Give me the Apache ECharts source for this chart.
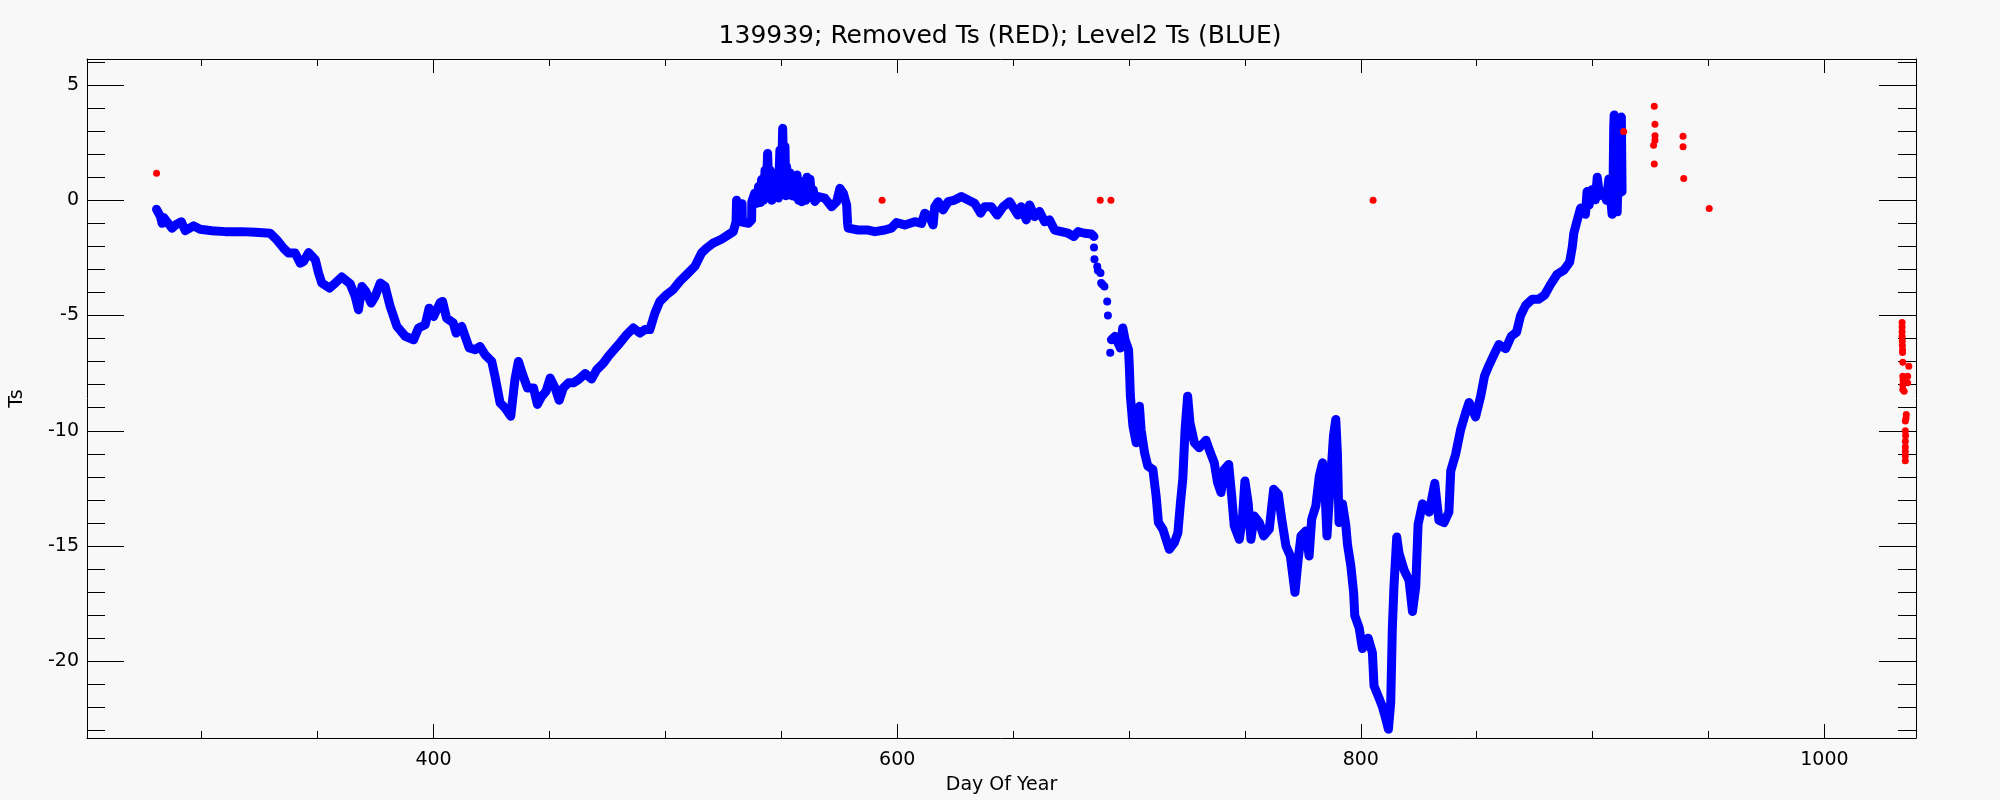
<!DOCTYPE html>
<html>
<head>
<meta charset="utf-8">
<script src="https://cdn.jsdelivr.net/npm/echarts@6/dist/echarts.min.js"></script>
<style>
html,body{margin:0;padding:0;background:#f8f8f8;}
#chart{width:2000px;height:800px;}
</style>
</head>
<body>
<div id="chart"></div>
<script>
// ---- data ----
const titleText = '139939; Removed Ts (RED); Level2 Ts (BLUE)';
const xName = 'Day Of Year';
const yName = 'Ts';

const xMajorTicks = [400, 600, 800, 1000];
const xMinorTicks = [300, 350, 450, 500, 550, 650, 700, 750, 850, 900, 950];
const yMajorTicks = [-20, -15, -10, -5, 0, 5];
const yMinorTicks = [-23, -22, -21, -19, -18, -17, -16, -14, -13, -12, -11, -9, -8, -7, -6, -4, -3, -2, -1, 1, 2, 3, 4, 6];

// Level2 Ts (blue), first dense stretch
const blueDayA = [280.5,282.2,282.9,283.6,285.0,287.2,289.0,291.2,292.9,296.5,299.3,304.4,310.1,317.3,323.0,329.5,332.4,335.3,337.4,340.3,342.5,343.9,346.1,349.0,350.4,351.8,355.1,357.6,360.4,364.0,366.2,367.6,369.1,370.8,373.1,374.8,377.0,379.1,381.3,384.2,387.8,391.4,393.5,396.4,398.1,400.0,402.9,403.9,405.6,408.5,409.7,412.1,413.6,415.4,417.9,420.0,422.2,425.1,426.5,428.7,430.8,433.3,435.1,436.6,438.7,440.5,443.1,444.8,446.7,448.5,450.3,452.4,454.2,456.0,458.2,460.3,462.5,465.4,468.2,470.4,473.3,475.4,477.6,480.4,483.3,486.2,489.0,491.2,493.3,495.5,497.6,500.5,503.3,506.2,509.1,512.7,515.6,517.7,520.6,524.2,527.1,529.3,530.5,530.7,530.9,533.0,533.1,533.2,535.8,537.2,537.3,538.5,539.4,540.2,541.0,541.5,542.3,543.0,543.5,544.1,544.6,545.1,545.9,546.5,547.3,548.0,548.7,549.4,550.0,550.6,551.1,551.6,552.0,552.3,553.0,553.7,554.5,555.2,555.9,556.8,557.5,558.1,558.8,559.5,560.5,561.1,561.7,562.4,563.1,563.8,564.5,566.0,568.8,571.7,573.9,575.3,576.8,578.2,578.6,578.9,583.2,587.5,590.4,594.7,597.5,599.7,603.3,607.6,610.5,611.9,614.0,615.5,616.2,617.7,619.8,622.0,624.8,627.7,630.6,633.4,636.0,637.7,640.6,643.2,645.7,648.5,650.7,652.1,653.5,655.7,657.1,659.3,661.4,663.6,665.7,667.9,670.8,673.7,676.2,678.0,680.8,683.7,684.9];
const blueTsA = [-0.39,-0.71,-1.00,-0.75,-0.93,-1.21,-1.05,-0.93,-1.32,-1.11,-1.26,-1.32,-1.36,-1.36,-1.39,-1.43,-1.72,-2.08,-2.29,-2.29,-2.73,-2.66,-2.27,-2.58,-3.16,-3.59,-3.81,-3.59,-3.33,-3.62,-4.17,-4.75,-3.74,-3.96,-4.46,-4.17,-3.59,-3.74,-4.61,-5.47,-5.90,-6.05,-5.54,-5.40,-4.68,-5.04,-4.43,-4.39,-5.11,-5.32,-5.76,-5.47,-5.90,-6.41,-6.48,-6.34,-6.70,-6.99,-7.64,-8.79,-9.00,-9.37,-7.78,-6.99,-7.64,-8.14,-8.14,-8.86,-8.50,-8.29,-7.71,-8.14,-8.68,-8.14,-7.92,-7.92,-7.78,-7.52,-7.75,-7.35,-7.06,-6.77,-6.51,-6.19,-5.83,-5.54,-5.76,-5.61,-5.61,-4.89,-4.39,-4.10,-3.88,-3.52,-3.23,-2.87,-2.29,-2.08,-1.86,-1.69,-1.50,-1.36,-0.93,0.00,-0.90,-0.85,-0.15,-0.95,-1.00,-0.85,-0.06,0.30,-0.13,0.60,-0.10,0.90,0.00,1.31,0.20,2.03,0.50,1.31,0.00,0.90,0.16,1.20,0.10,2.18,0.30,3.12,1.00,2.32,0.20,1.45,0.45,1.20,0.20,1.02,0.16,1.10,0.00,0.60,-0.06,0.81,0.00,1.00,0.20,0.91,0.10,0.45,-0.05,0.16,0.09,-0.28,-0.06,0.52,0.30,-0.20,-1.00,-1.21,-1.29,-1.29,-1.36,-1.29,-1.21,-0.97,-1.07,-0.93,-1.00,-0.56,-0.71,-1.07,-0.28,-0.06,-0.42,-0.06,0.01,0.16,0.01,-0.13,-0.56,-0.28,-0.28,-0.64,-0.28,-0.06,-0.42,-0.64,-0.28,-0.85,-0.20,-0.71,-0.49,-0.93,-0.85,-1.29,-1.36,-1.43,-1.57,-1.36,-1.43,-1.46,-1.57];

// Level2 Ts (blue), sparse points in the drop
const gapDay = [684.9,685.1,686.3,686.6,687.7,688.0,688.6,689.4,690.6,690.9,691.9];
const gapTs = [-2.05,-2.56,-2.87,-3.05,-3.16,-3.59,-3.65,-3.74,-4.39,-5.00,-6.62];

// Level2 Ts (blue), second dense stretch
const blueDayB = [692.4,694.0,696.3,697.3,698.3,699.8,700.2,700.6,701.7,703.1,704.5,705.2,706.7,708.1,710.3,711.7,712.7,714.6,716.0,717.4,719.6,721.1,722.2,723.2,724.2,725.3,726.3,728.2,730.3,733.2,735.1,736.8,738.2,739.7,741.1,743.0,744.3,745.4,747.6,749.0,750.0,751.4,752.6,754.0,756.2,758.1,760.5,762.4,764.4,765.9,767.7,769.6,771.6,773.0,774.2,776.3,777.7,778.8,780.6,782.1,783.5,784.5,785.4,786.3,788.2,789.2,789.9,790.6,792.1,793.5,794.3,795.7,796.9,797.4,799.3,800.7,803.2,805.0,805.7,807.9,809.3,810.8,811.9,812.9,813.6,814.3,815.5,816.5,818.7,820.8,822.3,823.7,824.7,826.6,829.5,831.9,833.7,835.9,838.0,838.8,840.9,843.1,845.2,846.7,849.5,851.7,853.4,855.3,857.4,859.6,862.5,864.9,867.2,868.9,871.1,874.0,876.8,879.3,881.8,884.7,887.6,890.1,891.2,891.9,893.3,894.8,896.9,897.6,898.5,899.8,901.2,902.0,903.0,904.8,906.0,907.0,908.4,908.8,909.1,909.3,909.6,910.3,910.6,911.3,911.6,912.0,912.3,912.4,912.7];
const blueTsB = [-6.05,-5.90,-6.41,-5.54,-6.05,-6.48,-7.35,-8.50,-9.80,-10.52,-8.94,-9.94,-10.95,-11.53,-11.68,-12.83,-13.98,-14.27,-14.71,-15.14,-14.85,-14.42,-13.12,-12.11,-9.94,-8.50,-9.65,-10.52,-10.74,-10.41,-10.95,-11.39,-12.25,-12.68,-11.68,-11.46,-12.83,-14.13,-14.71,-13.70,-12.18,-13.12,-14.71,-13.70,-13.98,-14.56,-14.27,-12.54,-12.76,-13.84,-15.00,-15.43,-17.01,-15.57,-14.56,-14.35,-15.43,-13.84,-13.26,-11.97,-11.39,-12.54,-14.56,-13.12,-10.23,-9.51,-10.95,-13.98,-13.17,-14.07,-14.97,-15.87,-17.03,-18.02,-18.56,-19.45,-19.00,-19.63,-21.07,-21.61,-21.97,-22.51,-22.95,-21.79,-18.56,-16.76,-14.61,-15.32,-16.05,-16.49,-17.84,-16.76,-14.07,-13.17,-13.53,-12.28,-13.89,-13.98,-13.53,-11.74,-11.02,-9.94,-9.23,-8.77,-9.40,-8.51,-7.61,-7.16,-6.71,-6.26,-6.44,-5.90,-5.72,-5.01,-4.56,-4.29,-4.29,-4.11,-3.66,-3.21,-3.03,-2.68,-2.04,-1.42,-0.88,-0.34,-0.61,0.38,-0.20,0.47,0.02,1.00,0.20,0.38,0.00,0.92,-0.61,0.47,3.16,3.70,1.00,1.55,-0.50,2.62,0.30,3.34,1.19,3.61,0.38];

// Removed Ts (red)
const redDay = [259.5,280.5,593.5,687.6,692.2,805.3,913.4,926.6,926.9,926.9,926.9,926.3,926.6,939.0,939.0,939.3,950.3,1033.5,1033.5,1033.5,1033.5,1033.6,1033.6,1033.7,1033.7,1033.8,1036.4,1033.8,1033.9,1033.8,1033.8,1035.9,1035.9,1034.4,1035.3,1035.2,1034.9,1034.9,1035.0,1034.9,1034.9,1034.9,1034.9,1034.9];
const redTs = [6.2,1.17,0.00,0.00,0.00,0.00,2.98,4.08,3.30,2.80,2.60,2.39,1.57,2.78,2.32,0.95,-0.36,-5.3,-5.5,-5.7,-5.9,-6.1,-6.3,-6.5,-6.6,-7.03,-7.20,-7.64,-7.8,-8.0,-8.21,-7.64,-7.92,-8.29,-9.29,-9.45,-9.58,-10.0,-10.2,-10.45,-10.7,-10.9,-11.1,-11.3];

// ---- chart ----
const X_MIN = 250.5, X_MAX = 1039.5;
const Y_MIN = -23.33, Y_MAX = 6.13;
const FONT = 'DejaVu Sans';
const zip = (a, b) => a.map((v, i) => [v, b[i]]);
const blk = {color: '#000', width: 1};
const plain = v => String(v);

function xAx(pos, ticks, len, line, labels) {
  return {
    type: 'value', position: pos, min: X_MIN, max: X_MAX,
    axisLine: {show: line, onZero: false, lineStyle: blk},
    axisTick: {show: true, inside: true, length: len, customValues: ticks, lineStyle: blk},
    axisLabel: labels ? {show: true, customValues: ticks, formatter: plain, margin: 13, fontSize: 19, color: '#000', fontFamily: FONT} : {show: false},
    splitLine: {show: false}, minorTick: {show: false}, axisPointer: {show: false}
  };
}
function yAx(pos, ticks, len, line, labels) {
  return {
    type: 'value', position: pos, min: Y_MIN, max: Y_MAX,
    axisLine: {show: line, onZero: false, lineStyle: blk},
    axisTick: {show: true, inside: true, length: len, customValues: ticks, lineStyle: blk},
    axisLabel: labels ? {show: true, customValues: ticks, formatter: plain, margin: 8, fontSize: 19, color: '#000', fontFamily: FONT} : {show: false},
    splitLine: {show: false}, minorTick: {show: false}, axisPointer: {show: false}
  };
}

const xs = [
  xAx('bottom', xMajorTicks, 14, true, true),
  xAx('bottom', xMinorTicks, 7, false, false),
  xAx('top', xMajorTicks, 14, true, false),
  xAx('top', xMinorTicks, 7, false, false)
];
Object.assign(xs[0], {name: xName, nameLocation: 'middle', nameGap: 38, nameTextStyle: {fontSize: 19, color: '#000', fontFamily: FONT}});
const ys = [
  yAx('left', yMajorTicks, 37, true, true),
  yAx('left', yMinorTicks, 18, false, false),
  yAx('right', yMajorTicks, 37, true, false),
  yAx('right', yMinorTicks, 18, false, false)
];
Object.assign(ys[0], {name: yName, nameLocation: 'middle', nameGap: 60, nameRotate: 90, nameTextStyle: {fontSize: 19, color: '#000', fontFamily: FONT}});

const lineStyle = {color: '#0000ff', width: 9, cap: 'round', join: 'round', opacity: 1};
const chart = echarts.init(document.getElementById('chart'), null, {renderer: 'canvas'});
chart.setOption({
  backgroundColor: '#f8f8f8',
  animation: false,
  title: {text: titleText, left: 'center', top: 24, padding: 0,
    textStyle: {fontSize: 25, fontWeight: 'normal', color: '#000', fontFamily: FONT}},
  grid: {left: 84, right: 84, top: 59, bottom: 61, containLabel: false},
  xAxis: xs,
  yAxis: ys,
  series: [
    {type: 'line', data: zip(blueDayA, blueTsA), showSymbol: false, symbol: 'none', lineStyle: lineStyle, clip: true, z: 2},
    {type: 'line', data: zip(blueDayB, blueTsB), showSymbol: false, symbol: 'none', lineStyle: lineStyle, clip: true, z: 2},
    {type: 'scatter', data: zip(gapDay, gapTs), symbol: 'circle', symbolSize: 8, itemStyle: {color: '#0000ff', opacity: 1}, z: 2},
    {type: 'scatter', data: zip(redDay, redTs), symbol: 'circle', symbolSize: 7, itemStyle: {color: '#ff0000', opacity: 1}, clip: true, z: 3}
  ]
});
</script>
</body>
</html>
